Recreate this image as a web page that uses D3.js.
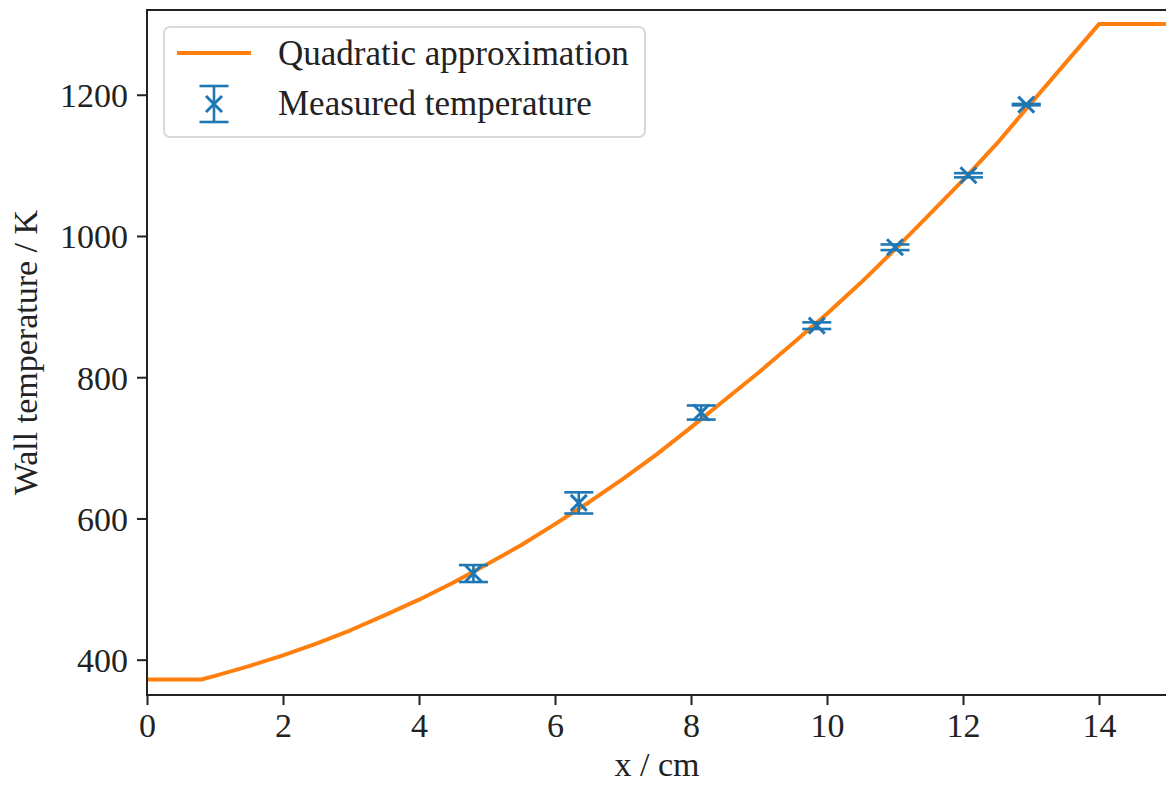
<!DOCTYPE html>
<html>
<head>
<meta charset="utf-8">
<script src="https://cdn.jsdelivr.net/npm/d3@7"></script>
<style>
  body { margin: 0; background: #fff; }
  text { font-family: "Liberation Serif", "Times New Roman", serif; fill: #222; }
</style>
</head>
<body>
<div id="chart-target"></div>
<script>
// curve (x in cm, T in K)
var curveX = [0, 0.8, 1, 1.5, 2, 2.5, 3, 3.5, 4, 4.5, 5, 5.5, 6, 6.5, 7, 7.5, 8, 8.5, 9, 9.5, 10, 10.5, 11, 11.5, 12, 12.5, 13, 13.5, 14, 15];
var curveT = [372, 372, 377, 391, 406, 423, 442, 463, 485, 509, 535, 562, 592, 623, 656, 691, 729, 768, 807, 848, 890, 934, 981, 1030, 1079, 1131, 1188, 1244, 1300, 1300];

// measured points with error bars
var measX = [4.80, 6.35, 8.15, 9.85, 11.0, 12.08, 12.93];
var measT = [522, 622, 750, 873, 984, 1086, 1186];
var measErr = [12, 15, 10, 4.7, 4, 3, 1];

var xTicks = [0, 2, 4, 6, 8, 10, 12, 14];
var yTicks = [400, 600, 800, 1000, 1200];

var width = 1166,
    height = 787;
var margin = {left: 147, top: 10, right: -1, bottom: 92};

var blue = "#1f77b4",
    orange = "#ff7f0e",
    ink = "#222";

var svg = d3.select("#chart-target").append("svg")
  .attr("width", width)
  .attr("height", height);

var x = d3.scaleLinear().domain([0, 15]).range([margin.left, width - margin.right]);
var y = d3.scaleLinear().domain([350, 1320]).range([height - margin.bottom, margin.top]);

svg.append("clipPath").attr("id", "plot-clip")
  .append("rect")
  .attr("x", margin.left).attr("y", margin.top)
  .attr("width", x(15) - margin.left)
  .attr("height", y(350) - margin.top);

var plot = svg.append("g").attr("clip-path", "url(#plot-clip)");

// quadratic approximation line
var curveData = curveX.map((d, i) => [d, curveT[i]]);
plot.append("path")
  .datum(curveData)
  .attr("d", d3.line().x(d => x(d[0])).y(d => y(d[1])))
  .attr("fill", "none")
  .attr("stroke", orange)
  .attr("stroke-width", 4)
  .attr("stroke-linejoin", "round");

// error bars + x markers
var cap = 14.5, mk = 8;
var meas = measX.map((d, i) => ({x: d, t: measT[i], e: measErr[i]}));
var pts = plot.selectAll(".meas")
  .data(meas)
  .enter().append("g")
  .attr("class", "meas")
  .attr("stroke", blue)
  .attr("stroke-width", 2.6);

pts.append("line")
  .attr("x1", d => x(d.x)).attr("x2", d => x(d.x))
  .attr("y1", d => y(d.t - d.e)).attr("y2", d => y(d.t + d.e));
pts.append("line")
  .attr("x1", d => x(d.x) - cap).attr("x2", d => x(d.x) + cap)
  .attr("y1", d => y(d.t + d.e)).attr("y2", d => y(d.t + d.e));
pts.append("line")
  .attr("x1", d => x(d.x) - cap).attr("x2", d => x(d.x) + cap)
  .attr("y1", d => y(d.t - d.e)).attr("y2", d => y(d.t - d.e));
pts.append("path")
  .attr("d", d => {
    var cx = x(d.x), cy = y(d.t);
    return `M${cx - mk},${cy - mk}L${cx + mk},${cy + mk}M${cx - mk},${cy + mk}L${cx + mk},${cy - mk}`;
  })
  .attr("stroke-width", 3);

// axes
var xAxis = svg.append("g")
  .attr("transform", `translate(0,${y(350)})`)
  .call(d3.axisBottom(x).tickValues(xTicks).tickSize(10).tickPadding(8).tickFormat(d3.format("d")));
var yAxis = svg.append("g")
  .attr("transform", `translate(${margin.left},0)`)
  .call(d3.axisLeft(y).tickValues(yTicks).tickSize(10).tickPadding(9).tickFormat(d3.format("d")));

[xAxis, yAxis].forEach(ax => {
  ax.select(".domain").remove();
  ax.selectAll(".tick line").attr("stroke", ink).attr("stroke-width", 2);
  ax.selectAll(".tick text").attr("font-size", 34).attr("fill", ink)
    .style("font-family", '"Liberation Serif", "Times New Roman", serif');
});
xAxis.selectAll(".tick text").attr("dy", "0.71em");
yAxis.selectAll(".tick text").attr("dy", "0.35em");

// frame (right spine sits just off the canvas)
svg.append("rect")
  .attr("x", margin.left).attr("y", margin.top)
  .attr("width", x(15) - margin.left)
  .attr("height", y(350) - margin.top)
  .attr("fill", "none")
  .attr("stroke", ink)
  .attr("stroke-width", 2);

// axis labels
svg.append("text")
  .attr("x", (margin.left + x(15)) / 2)
  .attr("y", 776)
  .attr("text-anchor", "middle")
  .attr("font-size", 34)
  .text("x / cm");

svg.append("text")
  .attr("transform", `translate(37,${(margin.top + y(350)) / 2}) rotate(-90)`)
  .attr("text-anchor", "middle")
  .attr("font-size", 34)
  .text("Wall temperature / K");

// legend
var legend = svg.append("g").attr("transform", "translate(164,27)");
legend.append("rect")
  .attr("width", 481).attr("height", 110)
  .attr("rx", 6)
  .attr("fill", "#fff").attr("fill-opacity", 0.8)
  .attr("stroke", "#d9d9d9").attr("stroke-width", 2);

legend.append("line")
  .attr("x1", 13).attr("x2", 87)
  .attr("y1", 26).attr("y2", 26)
  .attr("stroke", orange).attr("stroke-width", 4);
legend.append("text")
  .attr("x", 114).attr("y", 38)
  .attr("font-size", 35)
  .text("Quadratic approximation");

var lg = legend.append("g").attr("stroke", blue).attr("stroke-width", 2.6);
var lx = 50, ly = 77;
lg.append("line").attr("x1", lx).attr("x2", lx).attr("y1", ly - 18).attr("y2", ly + 18);
lg.append("line").attr("x1", lx - cap).attr("x2", lx + cap).attr("y1", ly - 18).attr("y2", ly - 18);
lg.append("line").attr("x1", lx - cap).attr("x2", lx + cap).attr("y1", ly + 18).attr("y2", ly + 18);
lg.append("path")
  .attr("d", `M${lx - mk},${ly - mk}L${lx + mk},${ly + mk}M${lx - mk},${ly + mk}L${lx + mk},${ly - mk}`)
  .attr("stroke-width", 3);
legend.append("text")
  .attr("x", 114).attr("y", 88)
  .attr("font-size", 35)
  .text("Measured temperature");
</script>
</body>
</html>
